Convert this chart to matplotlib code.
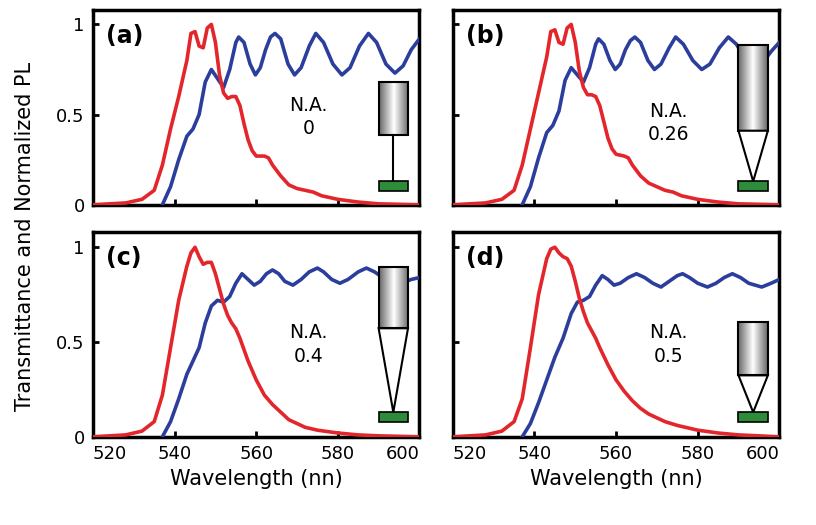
import numpy as np
import matplotlib
matplotlib.use("Agg")
import matplotlib.pyplot as plt
from matplotlib.patches import Rectangle, Polygon

# ── data ─────────────────────────────────────────────────────────────────────
pl_a_x = [520, 528, 532, 535, 537, 539, 541, 543, 544, 545, 546, 547, 548, 549, 550, 551, 552, 553, 554, 555, 556, 557, 558, 559, 560, 562, 563, 564, 566, 568, 570, 572, 574, 576, 580, 585, 590, 600]
pl_a_y = [0.0, 0.01, 0.03, 0.08, 0.22, 0.42, 0.6, 0.8, 0.95, 0.96, 0.88, 0.87, 0.98, 1.0, 0.9, 0.72, 0.62, 0.59, 0.6, 0.6, 0.55, 0.45, 0.36, 0.3, 0.27, 0.27, 0.26, 0.22, 0.16, 0.11, 0.09, 0.08, 0.07, 0.05, 0.03, 0.015, 0.005, 0.0]
pl_b_y = [0.0, 0.01, 0.03, 0.08, 0.22, 0.42, 0.62, 0.82, 0.96, 0.97, 0.9, 0.89, 0.98, 1.0, 0.9, 0.74, 0.65, 0.61, 0.61, 0.6, 0.55, 0.46, 0.37, 0.31, 0.28, 0.27, 0.26, 0.22, 0.16, 0.12, 0.1, 0.08, 0.07, 0.05, 0.03, 0.015, 0.005, 0.0]
pl_c_x = [520, 528, 532, 535, 537, 539, 541, 543, 544, 545, 546, 547, 548, 549, 550, 551, 552, 553, 554, 555, 556, 557, 558, 560, 562, 564, 566, 568, 570, 572, 575, 580, 585, 590, 600]
pl_c_y = [0.0, 0.01, 0.03, 0.08, 0.22, 0.47, 0.72, 0.9, 0.97, 1.0, 0.95, 0.91, 0.92, 0.92, 0.86, 0.78, 0.7, 0.64, 0.6, 0.57, 0.52, 0.46, 0.4, 0.3, 0.22, 0.17, 0.13, 0.09, 0.07, 0.05, 0.035, 0.02, 0.01, 0.005, 0.0]
pl_d_x = [520, 528, 532, 535, 537, 539, 541, 543, 544, 545, 546, 547, 548, 549, 550, 551, 552, 553, 554, 555, 556, 558, 560, 562, 564, 566, 568, 570, 572, 575, 580, 585, 590, 600]
pl_d_y = [0.0, 0.01, 0.03, 0.08, 0.2, 0.47, 0.75, 0.94, 0.99, 1.0, 0.97, 0.95, 0.94, 0.9, 0.82, 0.73, 0.66, 0.6, 0.56, 0.52, 0.47, 0.38, 0.3, 0.24, 0.19, 0.15, 0.12, 0.1, 0.08, 0.06, 0.035, 0.02, 0.01, 0.0]

tr_a_x = [537, 539, 541, 543, 544.5, 546, 547.5, 549, 550.5, 552, 553.5, 555, 555.7, 557, 558.5, 559.8, 561, 562.3, 563.5, 564.6, 566, 567.8, 569.4, 571, 573, 574.6, 576.5, 578.8, 581, 583, 585.3, 587.5, 589.5, 591.8, 594, 596, 598, 600]
tr_a_y = [0.0, 0.1, 0.25, 0.38, 0.42, 0.5, 0.68, 0.75, 0.7, 0.65, 0.75, 0.9, 0.93, 0.9, 0.78, 0.72, 0.76, 0.86, 0.93, 0.95, 0.92, 0.78, 0.72, 0.76, 0.88, 0.95, 0.9, 0.78, 0.72, 0.76, 0.88, 0.95, 0.9, 0.78, 0.73, 0.77, 0.86, 0.92]
tr_b_y = [0.0, 0.1, 0.26, 0.4, 0.44, 0.52, 0.69, 0.76, 0.72, 0.68, 0.76, 0.89, 0.92, 0.89, 0.8, 0.75, 0.78, 0.86, 0.91, 0.93, 0.9, 0.8, 0.75, 0.78, 0.87, 0.93, 0.89, 0.8, 0.75, 0.78, 0.87, 0.93, 0.89, 0.8, 0.76, 0.79, 0.85, 0.9]
tr_c_x = [537, 539, 541, 543, 544.5, 546, 547.5, 549, 550.5, 552, 553.5, 555, 556.5, 558, 559.5, 561, 562.5, 564, 565.5, 567, 569, 571, 573, 575, 576.5, 578.5, 580.5, 582.5, 585, 587, 589, 591, 593, 595.5, 598, 600]
tr_c_y = [0.0, 0.08, 0.2, 0.33, 0.4, 0.47, 0.6, 0.69, 0.72, 0.71, 0.74, 0.81, 0.86, 0.83, 0.8, 0.82, 0.86, 0.88, 0.86, 0.82, 0.8, 0.83, 0.87, 0.89, 0.87, 0.83, 0.81, 0.83, 0.87, 0.89, 0.87, 0.84, 0.81, 0.81, 0.83, 0.84]
tr_d_x = [537, 539, 541, 543, 545, 547, 549, 550.5, 552, 553.5, 555, 556.6, 558, 559.5, 561, 563, 565, 567, 569, 571, 573, 575, 576.3, 578, 580, 582.4, 584.5, 586.5, 588.5, 590.5, 592.5, 595.7, 598, 600]
tr_d_y = [0.0, 0.07, 0.18, 0.3, 0.42, 0.52, 0.65, 0.71, 0.72, 0.74, 0.8, 0.85, 0.83, 0.8, 0.81, 0.84, 0.86, 0.84, 0.81, 0.79, 0.82, 0.85, 0.86, 0.84, 0.81, 0.79, 0.81, 0.84, 0.86, 0.84, 0.81, 0.79, 0.81, 0.83]

panel_tags = ["(a)", "(b)", "(c)", "(d)"]
na_values = ["0", "0.26", "0.4", "0.5"]
x_ticks = [520, 540, 560, 580, 600]
pl_x = [pl_a_x, pl_a_x, pl_c_x, pl_d_x]
pl_y = [pl_a_y, pl_b_y, pl_c_y, pl_d_y]
tr_x = [tr_a_x, tr_a_x, tr_c_x, tr_d_x]
tr_y = [tr_a_y, tr_b_y, tr_c_y, tr_d_y]

# objective icon geometry (axes fraction): body top, body bottom, cone tip, cone half-width
icons = [(0.63, 0.36, 0.12, 0.0),
         (0.82, 0.38, 0.12, 0.045),
         (0.83, 0.53, 0.12, 0.045),
         (0.56, 0.30, 0.12, 0.045)]

RED = "#e3262b"
BLUE = "#2b3e9c"

fig = plt.figure(figsize=(8.16, 5.25), dpi=100)
positions = [(0.114, 0.61, 0.40, 0.371), (0.555, 0.61, 0.40, 0.371),
             (0.114, 0.168, 0.40, 0.39), (0.555, 0.168, 0.40, 0.39)]

grad = np.abs(np.linspace(-1, 1, 100))[None, :]

for i, pos in enumerate(positions):
    ax = fig.add_axes(pos)
    ax.plot(tr_x[i], tr_y[i], color=BLUE, lw=2.6, zorder=3)
    ax.plot(pl_x[i], pl_y[i], color=RED, lw=2.6, zorder=4)
    ax.set_xticks(x_ticks)
    ax.set_yticks([0, 0.5, 1])
    ax.set_yticklabels(["0", "0.5", "1"] if i % 2 == 0 else [])
    if i < 2:
        ax.set_xticklabels([])
    ax.tick_params(direction="in", length=4, width=2, labelsize=13, pad=6)
    if i >= 2:
        labs = ax.get_xticklabels()
        labs[0].set_ha("left")
        labs[-1].set_ha("right")
    for s in ax.spines.values():
        s.set_linewidth(2.5)
    ax.text(0.04, 0.93, panel_tags[i], transform=ax.transAxes, fontsize=17,
            fontweight="bold", va="top")
    ax.text(0.66, 0.45 if i != 1 else 0.42, "N.A.\n" + na_values[i],
            transform=ax.transAxes, fontsize=13.5, ha="center", va="center",
            linespacing=1.3)

    # objective icon
    top, bot, tip, hw = icons[i]
    x0, x1 = 0.875, 0.965
    xc = (x0 + x1) / 2
    ax.imshow(1 - 0.6 * grad, cmap="gray", vmin=0, vmax=1, aspect="auto",
              extent=(x0, x1, bot, top), transform=ax.transAxes, zorder=5)
    ax.add_patch(Rectangle((x0, bot), x1 - x0, top - bot, transform=ax.transAxes,
                           fill=False, ec="black", lw=1.5, zorder=6))
    if hw == 0:
        ax.plot([xc, xc], [bot, tip], color="black", lw=1.5,
                transform=ax.transAxes, zorder=6)
    else:
        ax.add_patch(Polygon([(xc - hw, bot), (xc + hw, bot), (xc, tip)],
                             transform=ax.transAxes, fc="white", ec="black",
                             lw=1.5, zorder=6))
    ax.add_patch(Rectangle((x0, 0.07), x1 - x0, 0.05, transform=ax.transAxes,
                           fc="#2e8b3a", ec="black", lw=1.2, zorder=6))
    ax.set_xlim(520, 600)
    ax.set_ylim(0, 1.08)
    if i >= 2:
        ax.set_xlabel("Wavelength (nn)", fontsize=15)

fig.text(0.018, 0.55, "Transmittance and Normalized PL", rotation=90,
         fontsize=15, ha="left", va="center")

fig.savefig("out.png", dpi=100)
